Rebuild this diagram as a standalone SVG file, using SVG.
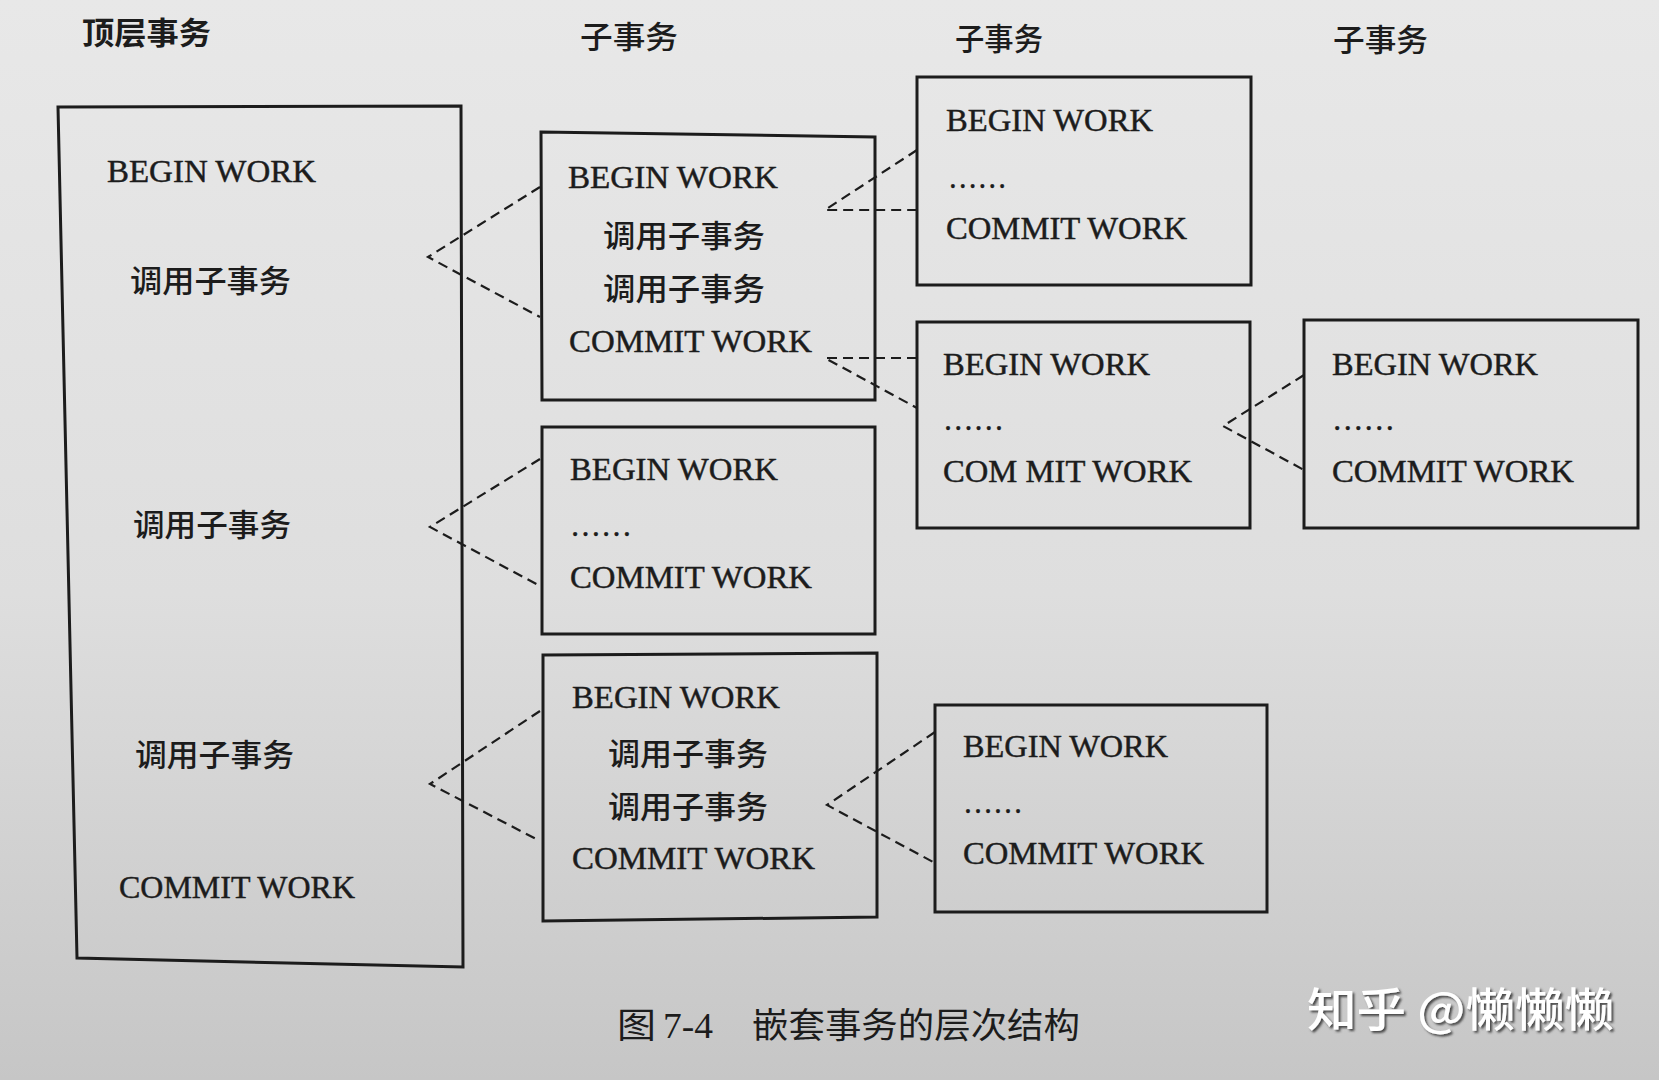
<svg xmlns="http://www.w3.org/2000/svg" width="1659" height="1080" viewBox="0 0 1659 1080">
<defs>
<linearGradient id="paper" x1="0" y1="0" x2="0" y2="1">
<stop offset="0" stop-color="#e8e8e8"/>
<stop offset="0.55" stop-color="#dedede"/>
<stop offset="1" stop-color="#c6c6c6"/>
</linearGradient>
<filter id="shadow" x="-10%" y="-30%" width="130%" height="170%">
<feDropShadow dx="2" dy="2" stdDeviation="1.2" flood-color="#3a3a3a" flood-opacity="0.9"/>
</filter>
</defs>
<style>
.box{fill:none;stroke:#1c1c1c;stroke-width:3;stroke-linejoin:miter}
.dash{fill:none;stroke:#1c1c1c;stroke-width:2.2;stroke-dasharray:10 6}
.en{font-family:"Liberation Serif","Times New Roman",serif;font-size:32px;fill:#1c1c1c;stroke:#1c1c1c;stroke-width:0.45}
.cn{font-family:"Noto Sans CJK SC",sans-serif;font-size:31px;font-weight:500;fill:#1c1c1c}
.hd{font-family:"Noto Sans CJK SC",sans-serif;font-size:31px;font-weight:600;fill:#1c1c1c}
.cap{font-family:"Liberation Serif","Noto Sans CJK SC",serif;font-size:36px;fill:#1c1c1c}
.capcn{font-family:"Noto Sans CJK SC",sans-serif;font-size:35px;font-weight:400;fill:#1c1c1c}
.wm{font-family:"Noto Sans CJK SC",sans-serif;font-size:46px;font-weight:500;fill:#ffffff}
</style>
<rect x="0" y="0" width="1659" height="1080" fill="url(#paper)"/>

<g id="headers">
<text class="hd" x="82" y="44" textLength="129" lengthAdjust="spacingAndGlyphs">顶层事务</text>
<text class="cn" x="580" y="48" textLength="98" lengthAdjust="spacingAndGlyphs">子事务</text>
<text class="cn" x="955" y="50" textLength="88" lengthAdjust="spacingAndGlyphs">子事务</text>
<text class="cn" x="1333" y="51" textLength="95" lengthAdjust="spacingAndGlyphs">子事务</text>
</g>

<g id="connectors">
<path class="dash" d="M540,187 L428,257 L540,317"/>
<path class="dash" d="M540,459 L430,527 L540,586"/>
<path class="dash" d="M540,711 L430,784 L540,841"/>
<path class="dash" d="M917,150 L825,210 L917,210"/>
<path class="dash" d="M917,358 L825,358 L917,408"/>
<path class="dash" d="M1304,375 L1223,426 L1304,470"/>
<path class="dash" d="M935,732 L827,805 L935,863"/>
</g>

<g id="top-level">
<path class="box" d="M58,107 L461,106 L463,967 L77,958 Z"/>
<text class="en" x="107" y="182" textLength="209" lengthAdjust="spacingAndGlyphs">BEGIN WORK</text>
<text class="cn" x="130" y="292" textLength="161" lengthAdjust="spacingAndGlyphs">调用子事务</text>
<text class="cn" x="133" y="536" textLength="158" lengthAdjust="spacingAndGlyphs">调用子事务</text>
<text class="cn" x="135" y="766" textLength="159" lengthAdjust="spacingAndGlyphs">调用子事务</text>
<text class="en" x="119" y="898" textLength="236" lengthAdjust="spacingAndGlyphs">COMMIT WORK</text>
</g>

<g id="sub1">
<path class="box" d="M541,132 L875,137 L875,400 L542,400 Z"/>
<text class="en" x="568" y="188" textLength="210" lengthAdjust="spacingAndGlyphs">BEGIN WORK</text>
<text class="cn" x="603" y="247" textLength="162" lengthAdjust="spacingAndGlyphs">调用子事务</text>
<text class="cn" x="603" y="300" textLength="162" lengthAdjust="spacingAndGlyphs">调用子事务</text>
<text class="en" x="569" y="352" textLength="243" lengthAdjust="spacingAndGlyphs">COMMIT WORK</text>
</g>

<g id="sub2">
<path class="box" d="M542,427 L875,427 L875,634 L542,634 Z"/>
<text class="en" x="570" y="480" textLength="208" lengthAdjust="spacingAndGlyphs">BEGIN WORK</text>
<text class="en" x="570" y="536" textLength="62" lengthAdjust="spacingAndGlyphs">……</text>
<text class="en" x="570" y="588" textLength="242" lengthAdjust="spacingAndGlyphs">COMMIT WORK</text>
</g>

<g id="sub3">
<path class="box" d="M543,655 L877,653 L877,917 L543,921 Z"/>
<text class="en" x="572" y="708" textLength="208" lengthAdjust="spacingAndGlyphs">BEGIN WORK</text>
<text class="cn" x="608" y="765" textLength="160" lengthAdjust="spacingAndGlyphs">调用子事务</text>
<text class="cn" x="608" y="818" textLength="160" lengthAdjust="spacingAndGlyphs">调用子事务</text>
<text class="en" x="572" y="869" textLength="243" lengthAdjust="spacingAndGlyphs">COMMIT WORK</text>
</g>

<g id="subA">
<path class="box" d="M917,77 L1251,77 L1251,285 L917,285 Z"/>
<text class="en" x="946" y="131" textLength="207" lengthAdjust="spacingAndGlyphs">BEGIN WORK</text>
<text class="en" x="948" y="188" textLength="59" lengthAdjust="spacingAndGlyphs">……</text>
<text class="en" x="946" y="239" textLength="241" lengthAdjust="spacingAndGlyphs">COMMIT WORK</text>
</g>

<g id="subB">
<path class="box" d="M917,322 L1250,322 L1250,528 L917,528 Z"/>
<text class="en" x="943" y="375" textLength="207" lengthAdjust="spacingAndGlyphs">BEGIN WORK</text>
<text class="en" x="943" y="430" textLength="61" lengthAdjust="spacingAndGlyphs">……</text>
<text class="en" x="943" y="482" textLength="249" lengthAdjust="spacingAndGlyphs">COM MIT WORK</text>
</g>

<g id="subC">
<path class="box" d="M1304,320 L1638,320 L1638,528 L1304,528 Z"/>
<text class="en" x="1332" y="375" textLength="206" lengthAdjust="spacingAndGlyphs">BEGIN WORK</text>
<text class="en" x="1332" y="430" textLength="63" lengthAdjust="spacingAndGlyphs">……</text>
<text class="en" x="1332" y="482" textLength="242" lengthAdjust="spacingAndGlyphs">COMMIT WORK</text>
</g>

<g id="subD">
<path class="box" d="M935,705 L1267,705 L1267,912 L935,912 Z"/>
<text class="en" x="963" y="757" textLength="205" lengthAdjust="spacingAndGlyphs">BEGIN WORK</text>
<text class="en" x="963" y="813" textLength="60" lengthAdjust="spacingAndGlyphs">……</text>
<text class="en" x="963" y="864" textLength="241" lengthAdjust="spacingAndGlyphs">COMMIT WORK</text>
</g>

<g id="caption">
<text class="capcn" x="617" y="1038" textLength="39" lengthAdjust="spacingAndGlyphs">图</text>
<text class="cap" x="663" y="1038" textLength="50" lengthAdjust="spacingAndGlyphs">7-4</text>
<text class="capcn" x="752" y="1038" textLength="328" lengthAdjust="spacingAndGlyphs">嵌套事务的层次结构</text>
</g>

<g id="watermark">
<text class="wm" x="1307" y="1026" textLength="307" lengthAdjust="spacingAndGlyphs" filter="url(#shadow)">知乎 @懒懒懒</text>
</g>
</svg>
